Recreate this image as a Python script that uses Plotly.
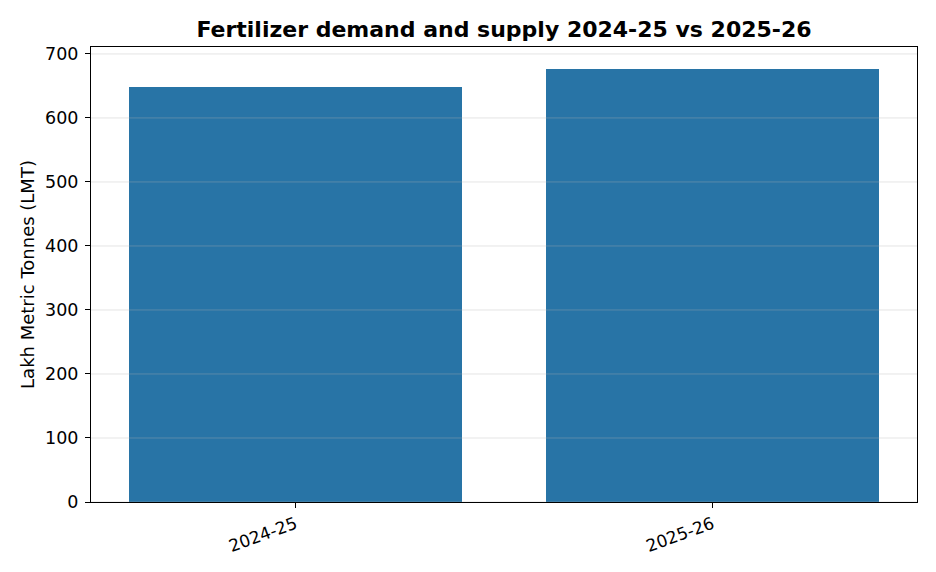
import plotly.graph_objects as go

categories = ["2024-25", "2025-26"]
values = [649, 677]
y_ticks = [0, 100, 200, 300, 400, 500, 600, 700]

BAR_COLOR = "rgb(40,116,166)"
FONT = "DejaVu Sans"

fig = go.Figure()
fig.add_trace(go.Bar(
    x=[0, 1], y=values, width=0.8,
    marker=dict(color=BAR_COLOR, line=dict(width=0)),
    hoverinfo="skip",
))

ymax = max(values) * 1.05
shapes = []
for t in y_ticks:
    shapes.append(dict(type="line", xref="paper", yref="y", x0=0, x1=1, y0=t, y1=t,
                       line=dict(color="rgba(180,180,180,0.35)", width=1), layer="above"))

fig.update_layout(
    width=936, height=572,
    margin=dict(l=91, r=19, t=47, b=70),
    paper_bgcolor="white", plot_bgcolor="white",
    showlegend=False,
    font=dict(family=FONT, size=18, color="black"),
    title=dict(text="<b>Fertilizer demand and supply 2024-25 vs 2025-26</b>",
               x=(91 + 917) / 2 / 936, xanchor="center", y=1 - 29 / 572, yanchor="middle",
               font=dict(family=FONT, size=22, color="black")),
    shapes=shapes,
    xaxis=dict(range=[-0.49, 1.49], tickmode="array", tickvals=[0, 1], ticktext=categories,
               tickangle=-20, ticks="outside", ticklen=5, tickcolor="black",
               showline=True, linecolor="black", linewidth=1, mirror=True,
               showgrid=False, zeroline=False, tickfont=dict(size=17)),
    yaxis=dict(range=[0, ymax], tickmode="array", tickvals=y_ticks,
               ticks="outside", ticklen=5, tickcolor="black", ticklabelstandoff=3,
               showline=True, linecolor="black", linewidth=1, mirror=True,
               showgrid=False, zeroline=False, tickfont=dict(size=17.5),
               title=dict(text="Lakh Metric Tonnes (LMT)", font=dict(size=18), standoff=5)),
    bargap=0,
)

fig.write_html("out.html")
